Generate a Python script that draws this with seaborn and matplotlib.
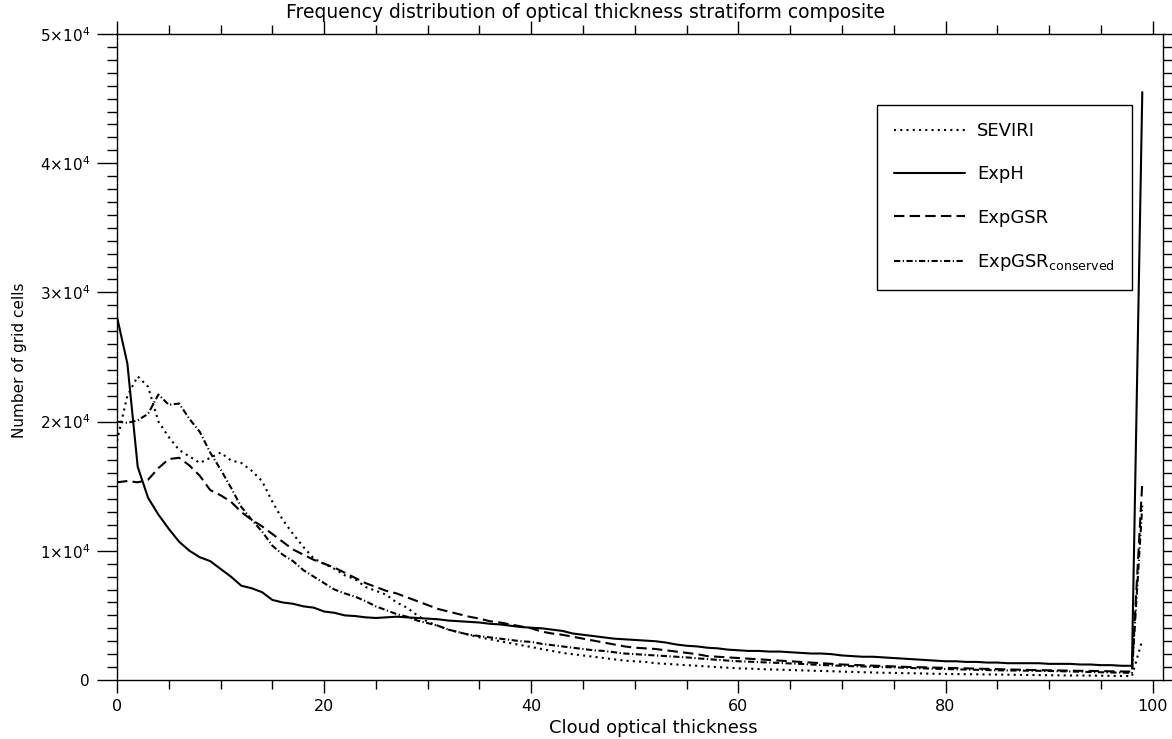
import numpy as np
import pandas as pd
import matplotlib
matplotlib.use("Agg")
import matplotlib.pyplot as plt
import seaborn as sns
from matplotlib.ticker import MultipleLocator, FixedLocator, FixedFormatter

# ---------------- data (counts in units of 1000 grid cells) ----------------
tau = list(range(0, 100))

sev = [18.5, 22.0, 23.5, 22.7, 20.0, 18.8, 17.8, 17.3, 16.8, 17.2,
       17.6, 17.0, 16.8, 16.2, 15.4, 13.8, 12.4, 11.3, 10.3, 9.4,
       9.0, 8.6, 8.1, 7.8, 7.2, 6.9, 6.6, 6.0, 5.6, 5.0,
       4.5, 4.2, 3.9, 3.7, 3.5, 3.3, 3.15, 3.0, 2.85, 2.7,
       2.55, 2.4, 2.25, 2.1, 2.0, 1.9, 1.8, 1.7, 1.6, 1.5,
       1.45, 1.4, 1.3, 1.25, 1.2, 1.15, 1.1, 1.05, 1.0, 0.95,
       0.9, 0.88, 0.85, 0.82, 0.8, 0.77, 0.75, 0.72, 0.7, 0.68,
       0.65, 0.63, 0.6, 0.58, 0.56, 0.55, 0.53, 0.52, 0.5, 0.48,
       0.47, 0.46, 0.45, 0.44, 0.43, 0.42, 0.41, 0.4, 0.39, 0.38,
       0.37, 0.36, 0.35, 0.35, 0.34, 0.33, 0.32, 0.31, 0.3, 3.1]

exph = [28.1, 24.5, 16.5, 14.1, 12.8, 11.7, 10.7, 10.0, 9.5, 9.2,
        8.6, 8.0, 7.3, 7.1, 6.8, 6.2, 6.0, 5.9, 5.7, 5.6,
        5.3, 5.2, 5.0, 4.95, 4.85, 4.8, 4.85, 4.9, 4.85, 4.8,
        4.75, 4.7, 4.6, 4.55, 4.5, 4.45, 4.35, 4.3, 4.2, 4.1,
        4.05, 4.0, 3.9, 3.8, 3.6, 3.5, 3.4, 3.3, 3.2, 3.15,
        3.1, 3.05, 3.0, 2.9, 2.75, 2.65, 2.6, 2.5, 2.45, 2.35,
        2.3, 2.25, 2.25, 2.2, 2.2, 2.15, 2.1, 2.05, 2.05, 2.0,
        1.9, 1.85, 1.8, 1.8, 1.75, 1.7, 1.65, 1.6, 1.55, 1.5,
        1.45, 1.45, 1.4, 1.4, 1.35, 1.35, 1.3, 1.3, 1.3, 1.3,
        1.25, 1.25, 1.25, 1.2, 1.2, 1.15, 1.15, 1.1, 1.1, 45.5]

expgsr = [15.3, 15.4, 15.3, 15.5, 16.4, 17.1, 17.2, 16.6, 15.8, 14.7,
          14.3, 13.8, 13.0, 12.4, 11.9, 11.3, 10.7, 10.1, 9.7, 9.3,
          9.0, 8.7, 8.3, 7.9, 7.5, 7.2, 6.9, 6.7, 6.4, 6.1,
          5.8, 5.5, 5.3, 5.1, 4.9, 4.75, 4.55, 4.45, 4.3, 4.15,
          4.0, 3.75, 3.6, 3.5, 3.35, 3.2, 3.05, 2.9, 2.75, 2.6,
          2.5, 2.45, 2.4, 2.3, 2.2, 2.1, 2.0, 1.85, 1.8, 1.75,
          1.7, 1.65, 1.6, 1.55, 1.5, 1.45, 1.4, 1.35, 1.3, 1.25,
          1.2, 1.17, 1.14, 1.11, 1.08, 1.05, 1.02, 1.0, 0.98, 0.96,
          0.94, 0.92, 0.9, 0.88, 0.86, 0.84, 0.82, 0.8, 0.78, 0.76,
          0.75, 0.74, 0.72, 0.71, 0.7, 0.69, 0.67, 0.66, 0.65, 15.3]

expgsr_c = [20.0, 19.9, 20.1, 20.6, 22.1, 21.3, 21.4, 20.2, 19.2, 17.6,
            16.3, 14.9, 13.4, 12.4, 11.5, 10.4, 9.7, 9.2, 8.5, 8.0,
            7.5, 7.0, 6.7, 6.45, 6.1, 5.7, 5.4, 5.1, 4.9, 4.6,
            4.4, 4.2, 3.9, 3.7, 3.5, 3.4, 3.3, 3.2, 3.1, 3.0,
            2.95, 2.8, 2.7, 2.6, 2.5, 2.4, 2.3, 2.25, 2.15, 2.05,
            2.0, 1.95, 1.9, 1.85, 1.8, 1.75, 1.68, 1.62, 1.56, 1.5,
            1.45, 1.42, 1.38, 1.35, 1.32, 1.28, 1.25, 1.2, 1.16, 1.13,
            1.1, 1.07, 1.05, 1.02, 1.0, 0.98, 0.95, 0.92, 0.9, 0.87,
            0.85, 0.83, 0.81, 0.79, 0.77, 0.75, 0.74, 0.73, 0.72, 0.71,
            0.7, 0.68, 0.66, 0.64, 0.62, 0.6, 0.58, 0.57, 0.55, 13.5]

series_names = ["SEVIRI", "ExpH", "ExpGSR", r"ExpGSR$_{\mathrm{conserved}}$"]
series_values = [sev, exph, expgsr, expgsr_c]

ytick_vals = [0, 10000, 20000, 30000, 40000, 50000]
ytick_labels = ["0", r"1$\times$10$^4$", r"2$\times$10$^4$", r"3$\times$10$^4$",
                r"4$\times$10$^4$", r"5$\times$10$^4$"]
xtick_vals = [0, 20, 40, 60, 80, 100]

title_text = "Frequency distribution of optical thickness stratiform composite"
xlabel_text = "Cloud optical thickness"
ylabel_text = "Number of grid cells"

# ---------------- style ----------------
sns.set_style("ticks")
plt.rcParams["font.family"] = ["DejaVu Sans"]
plt.rcParams["mathtext.fontset"] = "dejavusans"
plt.rcParams["text.color"] = "black"
plt.rcParams["axes.labelcolor"] = "black"
plt.rcParams["xtick.color"] = "black"
plt.rcParams["ytick.color"] = "black"

W, H = 1172, 739
fig = plt.figure(figsize=(W / 100, H / 100), dpi=100)
ax = fig.add_axes([117 / W, 1 - 680 / H, (1163 - 117) / W, (680 - 34) / H])

styles = [(0, (1, 2)), "-", (0, (5, 2.5)), (0, (3, 1.2, 0.6, 1.2))]

for name, vals, ls in zip(series_names, series_values, styles):
    df = pd.DataFrame({"tau": tau, "count": np.array(vals) * 1000.0})
    sns.lineplot(data=df, x="tau", y="count", ax=ax, color="black",
                 linewidth=1.5, linestyle=ls, label=name)

ax.set_xlim(0, 101)
ax.set_ylim(0, 50000)

ax.xaxis.set_major_locator(FixedLocator(xtick_vals))
ax.xaxis.set_minor_locator(MultipleLocator(5))
ax.yaxis.set_major_locator(FixedLocator(ytick_vals))
ax.yaxis.set_major_formatter(FixedFormatter(ytick_labels))
ax.yaxis.set_minor_locator(MultipleLocator(1000))

ax.tick_params(axis="both", which="both", direction="out", color="black",
               labelcolor="black", top=True, right=True, labelsize=11, width=1)
ax.tick_params(axis="x", which="major", length=9.5, pad=4, labelsize=11.5)
ax.tick_params(axis="x", which="minor", length=6.5)
ax.tick_params(axis="y", which="major", length=14.5, pad=5)
ax.tick_params(axis="y", which="minor", length=7)

for s in ax.spines.values():
    s.set_color("black")
    s.set_linewidth(1)

ax.set_xlabel(xlabel_text, fontsize=13)
ax.xaxis.set_label_coords(0.513, -0.060)
ax.set_ylabel(ylabel_text, fontsize=11)
ax.yaxis.set_label_coords(-0.086, 0.495)

fig.text(0.5, 1 - 12 / H, title_text, ha="center", va="center", fontsize=13.5,
         color="black")

leg = ax.legend(loc="upper left", bbox_to_anchor=((877 - 117) / 1046, (680 - 105) / 646),
                frameon=True, fancybox=False, edgecolor="black", framealpha=1,
                fontsize=13, handlelength=3.9, handletextpad=0.7,
                labelspacing=1.4, borderpad=0.95, borderaxespad=0)
leg.get_frame().set_linewidth(1)

fig.savefig("out.png", dpi=100)
